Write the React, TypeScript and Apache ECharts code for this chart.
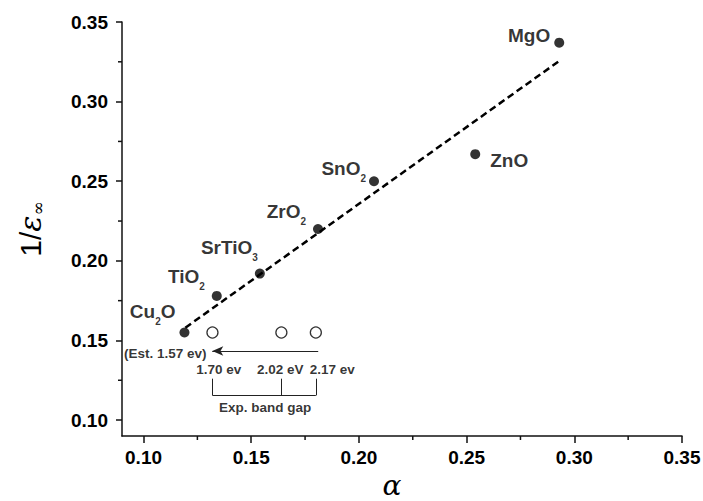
import React, { useEffect, useRef } from "react";
import * as echarts from "echarts";

// ---- data ----
const OXIDES = ["MgO", "ZnO", "SnO2", "ZrO2", "SrTiO3", "TiO2", "Cu2O"];
const ALPHA = [0.293, 0.254, 0.207, 0.181, 0.154, 0.134, 0.119];
const INV_EPS = [0.337, 0.267, 0.25, 0.22, 0.192, 0.178, 0.155];

const EXP_ALPHA = [0.132, 0.164, 0.18];
const EXP_INV_EPS = [0.155, 0.155, 0.155];

const FIT_X = [0.1194, 0.2935];
const FIT_Y = [0.158, 0.326];

const AXIS_MIN = 0.09;
const AXIS_MAX = 0.35;
const X_TICKS = [0.1, 0.15, 0.2, 0.25, 0.3, 0.35];
const X_MINOR = [0.125, 0.175, 0.225, 0.275, 0.325];
const Y_TICKS = [0.1, 0.15, 0.2, 0.25, 0.3, 0.35];
const Y_MINOR = [0.125, 0.175, 0.225, 0.275, 0.325];

const NOTE_TEXTS = ["(Est. 1.57 ev)", "1.70 ev", "2.02 eV", "2.17 ev", "Exp. band gap"];
const NOTE_X = [0.1101, 0.1349, 0.1635, 0.1876, 0.1565];
const NOTE_Y = [0.1417, 0.1315, 0.1315, 0.1315, 0.1082];

const BRACKET_TOP = 0.126;
const BRACKET_BOTTOM = 0.1155;
const ARROW_FROM = [0.1811, 0.1434];
const ARROW_TO = [0.1319, 0.1434];

// ---- label texts (rich) and placement ----
const LABEL_RICH: Record<string, string> = {
  MgO: "{n|MgO}",
  ZnO: "{n|ZnO}",
  SnO2: "{n|SnO}{s|2}",
  ZrO2: "{n|ZrO}{s|2}",
  SrTiO3: "{n|SrTiO}{s|3}",
  TiO2: "{n|TiO}{s|2}",
  Cu2O: "{n|Cu}{s|2}{n|O}",
};
const LABEL_PLACE: Record<string, { pos: string; off: [number, number] }> = {
  MgO: { pos: "left", off: [-4, -7] },
  ZnO: { pos: "right", off: [10, 6] },
  SnO2: { pos: "left", off: [-3, -13] },
  ZrO2: { pos: "left", off: [-7, -18] },
  SrTiO3: { pos: "left", off: [3, -26] },
  TiO2: { pos: "left", off: [-7, -19] },
  Cu2O: { pos: "left", off: [-4, -21] },
};

const FONT = "'Liberation Sans', Arial, sans-serif";
const INK = "#000";

export default function App() {
  const ref = useRef<HTMLDivElement>(null);

  useEffect(() => {
    if (!ref.current) return;
    const chart = echarts.init(ref.current, undefined, { renderer: "svg" });

    const rich = {
      n: { fontSize: 19, fontWeight: "bold", fontFamily: FONT, color: INK, lineHeight: 20 },
      s: {
        fontSize: 10,
        fontWeight: "bold",
        fontFamily: FONT,
        color: INK,
        lineHeight: 10,
        padding: [20, 0, 0, 0],
      },
    };

    const bracketLines: any[] = EXP_ALPHA.map((x) => [
      { coord: [x, BRACKET_TOP] },
      { coord: [x, BRACKET_BOTTOM] },
    ]);
    bracketLines.push([
      { coord: [EXP_ALPHA[0], BRACKET_BOTTOM] },
      { coord: [EXP_ALPHA[EXP_ALPHA.length - 1], BRACKET_BOTTOM] },
    ]);
    bracketLines.push([
      { coord: ARROW_FROM, symbol: "none" },
      { coord: ARROW_TO, symbol: "arrow", symbolSize: [7, 11] },
    ]);

    const axisLineStyle = { color: "#111", width: 1.5 };

    chart.setOption({
      animation: false,
      backgroundColor: "#ffffff",
      grid: {
        left: 122,
        right: 21,
        top: 22,
        bottom: 65,
        containLabel: false,
        outerBoundsMode: "none",
      },
      xAxis: {
        type: "value",
        min: AXIS_MIN,
        max: AXIS_MAX,
        name: "α",
        nameLocation: "middle",
        nameGap: 36,
        nameTextStyle: {
          fontSize: 28,
          lineHeight: 22,
          fontStyle: "italic",
          fontFamily: "'DejaVu Serif', serif",
          color: INK,
          padding: [0, 20, 0, 0],
        },
        axisLine: { lineStyle: axisLineStyle },
        axisTick: { customValues: X_TICKS, length: 7, lineStyle: axisLineStyle },
        axisLabel: {
          customValues: X_TICKS,
          formatter: (v: number) => v.toFixed(2),
          fontSize: 19,
          fontWeight: "bold",
          fontFamily: FONT,
          color: INK,
          margin: 12,
        },
        splitLine: { show: false },
      },
      yAxis: {
        type: "value",
        min: AXIS_MIN,
        max: AXIS_MAX,
        name: "{a|1/}{b|ε}{c|∞}",
        nameLocation: "middle",
        nameRotate: 90,
        nameGap: 76,
        nameTextStyle: {
          rich: {
            a: { fontSize: 30, fontFamily: FONT, color: INK },
            b: { fontSize: 30, fontStyle: "italic", fontFamily: "'DejaVu Serif', serif", color: INK },
            c: { fontSize: 17, fontStyle: "italic", fontFamily: "'DejaVu Serif', serif", color: INK, padding: [14, 0, 0, 0] },
          },
        },
        axisLine: { show: true, lineStyle: axisLineStyle },
        axisTick: { show: true, customValues: Y_TICKS, length: 6, lineStyle: axisLineStyle },
        axisLabel: {
          customValues: Y_TICKS,
          formatter: (v: number) => v.toFixed(2),
          fontSize: 19,
          fontWeight: "bold",
          fontFamily: FONT,
          color: INK,
          margin: 14,
        },
        splitLine: { show: false },
      },
      series: [
        {
          name: "fit",
          type: "line",
          data: FIT_X.map((x, i) => [x, FIT_Y[i]]),
          showSymbol: false,
          symbol: "none",
          lineStyle: { color: INK, width: 2.5, type: [7, 4] },
          z: 1,
        },
        {
          name: "oxides",
          type: "scatter",
          symbol: "circle",
          symbolSize: 10,
          itemStyle: { color: "#000" },
          z: 3,
          data: OXIDES.map((name, i) => ({
            name,
            value: [ALPHA[i], INV_EPS[i]],
            label: {
              show: true,
              position: LABEL_PLACE[name].pos,
              distance: 0,
              offset: LABEL_PLACE[name].off,
              formatter: LABEL_RICH[name],
              rich,
            },
          })),
        },
        {
          name: "experimental",
          type: "scatter",
          symbol: "circle",
          symbolSize: 11,
          itemStyle: { color: "#fff", borderColor: INK, borderWidth: 1.3 },
          z: 3,
          data: EXP_ALPHA.map((x, i) => [x, EXP_INV_EPS[i]]),
        },
        {
          name: "notes",
          type: "scatter",
          symbolSize: 0,
          z: 4,
          silent: true,
          data: NOTE_TEXTS.map((t, i) => ({
            name: t,
            value: [NOTE_X[i], NOTE_Y[i]],
            label: {
              show: true,
              position: "inside",
              formatter: t,
              fontSize: 13.5,
              fontWeight: "bold",
              fontFamily: FONT,
              color: INK,
            },
          })),
          markLine: {
            silent: true,
            symbol: "none",
            animation: false,
            label: { show: false },
            lineStyle: { color: "#222", width: 1, type: "solid" },
            emphasis: { disabled: true },
            data: bracketLines,
          },
        },
      ],
    });

    // minor ticks, positioned through the axes' own scales
    const xAt = (v: number) => chart.convertToPixel({ xAxisIndex: 0 }, v) as number;
    const yAt = (v: number) => chart.convertToPixel({ yAxisIndex: 0 }, v) as number;
    const x0 = xAt(AXIS_MIN);
    const y0 = yAt(AXIS_MIN);
    const tickStyle = { stroke: "#111", lineWidth: 1.5 };
    const minor: any[] = [
      ...X_MINOR.map((v) => ({
        type: "line",
        silent: true,
        shape: { x1: xAt(v), y1: y0, x2: xAt(v), y2: y0 + 4 },
        style: tickStyle,
      })),
      ...Y_MINOR.map((v) => ({
        type: "line",
        silent: true,
        shape: { x1: x0 - 4, y1: yAt(v), x2: x0, y2: yAt(v) },
        style: tickStyle,
      })),
    ];
    chart.setOption({ graphic: minor });

    return () => chart.dispose();
  }, []);

  return (
    <div
      ref={ref}
      style={{ position: "absolute", left: 0, top: 0, width: 703, height: 501, background: "#fff" }}
    />
  );
}
